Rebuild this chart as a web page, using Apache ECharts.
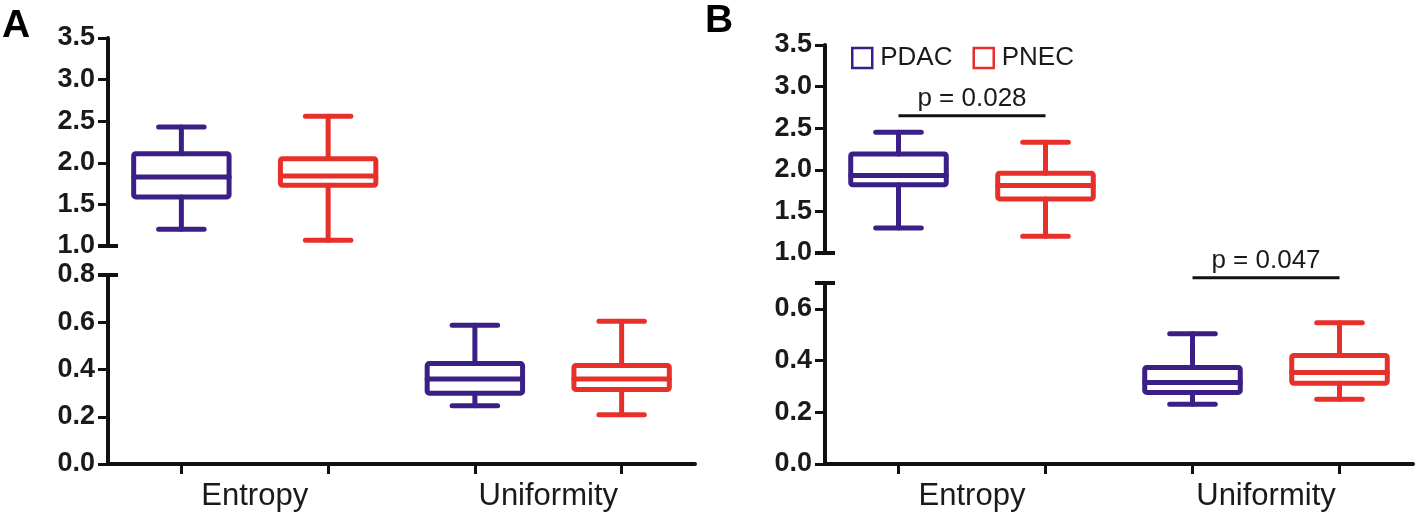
<!DOCTYPE html>
<html>
<head>
<meta charset="utf-8">
<title>Entropy / Uniformity</title>
<script src="https://cdn.jsdelivr.net/npm/echarts@6/dist/echarts.min.js"></script>
<style>
  html, body { margin: 0; padding: 0; background: #fff; }
  #chart { width: 1418px; height: 520px; }
</style>
</head>
<body>
<div id="chart"></div>
<script>
// box values: [low whisker, Q1, median, Q3, high whisker]
const categories = ["Entropy", "Uniformity"];
const groups = ["PDAC", "PNEC"];
const colors = ["#3b1f86", "#e8302b"];

const aEntropyPDAC = [1.2, 1.59, 1.83, 2.11, 2.43];
const aEntropyPNEC = [1.07, 1.73, 1.84, 2.05, 2.56];
const aUniformityPDAC = [0.247, 0.3, 0.36, 0.425, 0.587];
const aUniformityPNEC = [0.208, 0.315, 0.36, 0.417, 0.604];

const bEntropyPDAC = [1.3, 1.82, 1.93, 2.19, 2.45];
const bEntropyPNEC = [1.2, 1.65, 1.81, 1.96, 2.33];
const bUniformityPDAC = [0.231, 0.277, 0.315, 0.373, 0.504];
const bUniformityPNEC = [0.25, 0.312, 0.354, 0.42, 0.546];

// significance bars in panel B
const sigLabels = ["p = 0.028", "p = 0.047"];
const sigLevels = [2.65, 0.72];

// 4 slots on each x axis: PDAC/PNEC for Entropy, then for Uniformity
const slots = ["e1", "e2", "u1", "u2"];

const FONT = "'Liberation Sans', Arial, sans-serif";
const chart = echarts.init(document.getElementById("chart"));

function renderBox(params, api) {
  const slot = api.value(0);
  const band = api.size([1, 0])[0];
  const p = [1, 2, 3, 4, 5].map((i) => api.coord([slot, api.value(i)]));
  const cx = p[0][0];
  const low = p[0][1], q1 = p[1][1], med = p[2][1], q3 = p[3][1], high = p[4][1];
  const half = band * 0.325;
  const cap = band * 0.155;
  const style = { stroke: api.visual("color"), lineWidth: 5, fill: "transparent", lineCap: "round" };
  const line = (x1, y1, x2, y2) => ({ type: "line", shape: { x1, y1, x2, y2 }, style });
  return {
    type: "group",
    children: [
      { type: "rect", shape: { x: cx - half, y: q3, width: half * 2, height: q1 - q3, r: 2 }, style },
      line(cx - half, med, cx + half, med),
      line(cx, q3, cx, high),
      line(cx, q1, cx, low),
      line(cx - cap, high, cx + cap, high),
      line(cx - cap, low, cx + cap, low),
    ],
  };
}

function boxSeries(name, color, xi, yi, items) {
  return {
    name,
    type: "custom",
    xAxisIndex: xi,
    yAxisIndex: yi,
    itemStyle: { color },
    renderItem: renderBox,
    encode: { x: 0, y: [1, 2, 3, 4, 5] },
    data: items,
  };
}

function sigSeries(xi, yi, from, to, level, text) {
  return {
    type: "custom",
    xAxisIndex: xi,
    yAxisIndex: yi,
    silent: true,
    renderItem(params, api) {
      const a = api.coord([api.value(0), api.value(2)]);
      const b = api.coord([api.value(1), api.value(2)]);
      return {
        type: "group",
        children: [
          { type: "line", shape: { x1: a[0], y1: a[1], x2: b[0], y2: b[1] }, style: { stroke: "#111", lineWidth: 3 } },
          {
            type: "text",
            x: (a[0] + b[0]) / 2,
            y: a[1] - 4,
            style: { text, fill: "#1a1a1a", fontSize: 26, fontFamily: FONT, align: "center", verticalAlign: "bottom" },
          },
        ],
      };
    },
    data: [[from, to, level]],
  };
}

const valueAxis = (gridIndex, min, max, capAtMin) => ({
  type: "value",
  gridIndex,
  min,
  max,
  interval: min === 1 ? 0.5 : 0.2,
  splitLine: { show: false },
  axisLine: {
    show: true,
    lineStyle: { color: "#111", width: 4 },
    symbol: capAtMin ? ["rect", "none"] : ["none", "rect"],
    symbolSize: [20, 4],
  },
  axisTick: { show: true, length: 10, lineStyle: { color: "#111", width: 3 } },
  axisLabel: {
    margin: 13,
    showMaxLabel: max === 0.7 ? false : true,
    color: "#1a1a1a",
    fontSize: 27,
    fontWeight: "bold",
    fontFamily: FONT,
    formatter: (v) => v.toFixed(1),
  },
});

const slotAxis = (gridIndex, show) => ({
  type: "category",
  gridIndex,
  position: "bottom",
  show,
  data: slots,
  axisLine: { show: true, onZero: false, lineStyle: { color: "#111", width: 4 } },
  axisTick: { show: true, alignWithLabel: true, length: 10, lineStyle: { color: "#111", width: 3 } },
  axisLabel: { show: false },
});

const labelAxis = (gridIndex) => ({
  type: "category",
  gridIndex,
  position: "bottom",
  data: categories,
  axisLine: { show: false },
  axisTick: { show: false },
  axisLabel: { margin: 17, color: "#1a1a1a", fontSize: 31, fontFamily: FONT },
});

const option = {
  backgroundColor: "#fff",
  animation: false,
  title: [
    { text: "A", left: 2, top: 7, padding: 0, textStyle: { fontSize: 39, fontWeight: "bold", color: "#000", fontFamily: FONT } },
    { text: "B", left: 705, top: 2, padding: 0, textStyle: { fontSize: 39, fontWeight: "bold", color: "#000", fontFamily: FONT } },
  ],
  legend: {
    left: 846,
    top: 40,
    icon: "rect",
    itemWidth: 20,
    itemHeight: 20,
    itemGap: 20,
    textStyle: { fontSize: 26, color: "#1a1a1a", fontFamily: FONT, padding: [0, 0, 0, 3] },
    data: groups.map((g, i) => ({
      name: g,
      itemStyle: { color: "transparent", borderColor: colors[i], borderWidth: 2.5 },
    })),
  },
  grid: [
    { left: 108, top: 38, width: 587, height: 208 },
    { left: 108, top: 275, width: 587, height: 189 },
    { left: 825, top: 45, width: 588, height: 208 },
    { left: 825, top: 283, width: 588, height: 181 },
  ],
  xAxis: [
    slotAxis(0, false),
    slotAxis(1, true),
    labelAxis(1),
    slotAxis(2, false),
    slotAxis(3, true),
    labelAxis(3),
  ],
  yAxis: [
    valueAxis(0, 1, 3.5, true),
    valueAxis(1, 0, 0.8, false),
    valueAxis(2, 1, 3.5, true),
    valueAxis(3, 0, 0.7, false),
  ],
  series: [
    boxSeries(groups[0], colors[0], 0, 0, [[0, ...aEntropyPDAC]]),
    boxSeries(groups[1], colors[1], 0, 0, [[1, ...aEntropyPNEC]]),
    boxSeries(groups[0], colors[0], 1, 1, [[2, ...aUniformityPDAC]]),
    boxSeries(groups[1], colors[1], 1, 1, [[3, ...aUniformityPNEC]]),
    boxSeries(groups[0], colors[0], 3, 2, [[0, ...bEntropyPDAC]]),
    boxSeries(groups[1], colors[1], 3, 2, [[1, ...bEntropyPNEC]]),
    boxSeries(groups[0], colors[0], 4, 3, [[2, ...bUniformityPDAC]]),
    boxSeries(groups[1], colors[1], 4, 3, [[3, ...bUniformityPNEC]]),
    sigSeries(3, 2, 0, 1, sigLevels[0], sigLabels[0]),
    sigSeries(4, 3, 2, 3, sigLevels[1], sigLabels[1]),
  ],
};

chart.setOption(option);
</script>
</body>
</html>
